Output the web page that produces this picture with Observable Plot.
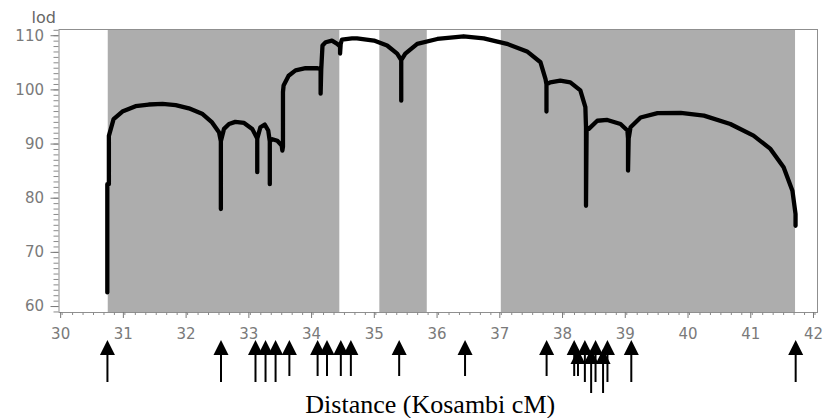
<!DOCTYPE html>
<html><head><meta charset="utf-8">
<script src="https://cdn.jsdelivr.net/npm/d3@7"></script>
<script src="https://cdn.jsdelivr.net/npm/@observablehq/plot@0.6"></script>
<style>body{margin:0;background:#fff}</style>
</head><body><div id="chart"></div>
<script>
// Tick labels
const xTicks = [30, 31, 32, 33, 34, 35, 36, 37, 38, 39, 40, 41, 42];
const yTicks = [60, 70, 80, 90, 100, 110];

// LOD profile (Kosambi cM, lod)
const curveCM = [30.72, 30.72, 30.745, 30.745, 30.82, 30.96, 31.17, 31.38, 31.60, 31.81, 32.02, 32.23, 32.39, 32.50,
  32.53, 32.53, 32.53, 32.58, 32.66, 32.76, 32.90, 33.03,
  33.11, 33.11, 33.11, 33.16, 33.23, 33.285,
  33.31, 33.31, 33.31, 33.35, 33.43, 33.50, 33.51, 33.52, 33.52, 33.53, 33.61, 33.72, 33.88, 34.07,
  34.12, 34.12, 34.13, 34.15, 34.20, 34.30, 34.385,
  34.43, 34.43, 34.44, 34.46, 34.62, 34.70, 34.97, 35.18, 35.34,
  35.405, 35.405, 35.405, 35.47, 35.66, 35.98, 36.40, 36.72, 37.09, 37.41, 37.625, 37.705,
  37.72, 37.72, 37.72, 37.78, 37.94, 38.10, 38.26, 38.34,
  38.35, 38.35, 38.36, 38.395, 38.53, 38.69, 38.90, 39.01,
  39.02, 39.02, 39.03, 39.06, 39.22, 39.49, 39.86, 40.23, 40.65, 41.02, 41.29, 41.50, 41.64, 41.69, 41.69];
const curveLod = [62.6, 82.6, 82.6, 91.5, 94.6, 96.0, 97.0, 97.3, 97.4, 97.2, 96.6, 95.6, 94.0, 92.2,
  90.5, 78.0, 90.5, 92.8, 93.7, 94.1, 93.9, 92.8,
  91.0, 84.8, 91.0, 93.1, 93.6, 92.5,
  90.5, 82.6, 90.5, 90.9, 90.6, 89.7, 88.8, 89.5, 99.6, 100.8, 102.6, 103.6, 104.0, 104.0,
  103.8, 99.3, 103.8, 108.2, 108.8, 109.1, 108.5,
  108.0, 106.7, 108.5, 109.3, 109.5, 109.5, 109.1, 108.2, 106.7,
  105.5, 98.0, 105.5, 106.7, 108.5, 109.4, 109.9, 109.5, 108.5, 107.1, 105.1, 102.0,
  101.0, 96.0, 101.0, 101.4, 101.7, 101.4, 99.9, 96.8,
  93.1, 78.6, 93.1, 92.8, 94.3, 94.45, 93.7, 92.5,
  91.0, 85.1, 91.0, 93.1, 94.9, 95.7, 95.75, 95.25, 93.7, 91.55, 89.1, 85.7, 81.4, 77.1, 74.9];

// Shaded (grey) intervals, cM
const bandStart = [30.735, 35.064, 37.0];
const bandEnd = [34.426, 35.82, 41.69];

// Marker positions under the axis, cM
const markers = [30.73, 32.54, 33.09, 33.25, 33.41, 33.63, 34.08, 34.23, 34.45, 34.61, 35.38, 36.43, 37.73,
  38.17, 38.23, 38.34, 38.44, 38.51, 38.63, 38.70, 39.08, 41.70];
const markerRow = [0, 0, 0, 0, 0, 0, 0, 0, 0, 0, 0, 0, 0, 0, 1, 0, 1, 0, 1, 0, 0, 0];
const markerLen = ["mid", "mid", "mid", "mid", "mid", "short", "short", "short", "short", "short", "short", "short", "short",
  "short", "short", "mid", "long", "mid", "long", "mid", "mid", "mid"];

const curve = curveCM.map((x, i) => ({x, lod: curveLod[i]}));
const bands = bandStart.map((s, i) => ({s, e: bandEnd[i]}));
const yMinor = d3.range(59, 112);
const xMinor = d3.range(0, 73).map(i => 30 + i / 6);

function arrows(index, scales, values, dims) {
  const g = d3.create("svg:g");
  const y0 = dims.height - dims.marginBottom;
  const tip = [28, 37];
  const bottom = {short: 64, mid: 70, long: 81};
  markers.forEach((m, i) => {
    const x = scales.x(m);
    const t = y0 + tip[markerRow[i]];
    const b = y0 + bottom[markerLen[i]];
    g.append("line").attr("x1", x).attr("x2", x).attr("y1", t + 12).attr("y2", b)
      .attr("stroke", "black").attr("stroke-width", 2);
    g.append("path").attr("d", `M${x},${t}L${x + 7.5},${t + 15}L${x - 7.5},${t + 15}Z`).attr("fill", "black");
  });
  return g.node();
}

const chart = Plot.plot({
  width: 823,
  height: 418,
  marginLeft: 58.5,
  marginRight: 6,
  marginTop: 29,
  marginBottom: 106,
  style: {fontFamily: "DejaVu Sans", background: "white"},
  x: {domain: [29.95, 42.04]},
  y: {domain: [58.9, 111.15]},
  marks: [
    Plot.rect(bands, {x1: "s", x2: "e", fill: "#adadad"}),
    Plot.frame({stroke: "#8f8f8f"}),
    Plot.axisY({ticks: yMinor, tickSize: 5, text: null, label: null, color: "#8a8a8a"}),
    Plot.axisY({ticks: yTicks, tickSize: 8, tickPadding: 7, fontSize: 15, label: null, color: "#7a7a7a"}),
    Plot.axisX({ticks: xMinor, tickSize: 3, text: null, label: null, color: "#8a8a8a"}),
    Plot.axisX({ticks: xTicks, tickSize: 6, tickPadding: 10, fontSize: 15, label: null, color: "#7a7a7a", dx: -1.5}),
    Plot.line(curve, {x: "x", y: "lod", stroke: "black", strokeWidth: 4.3}),
    arrows,
    Plot.text(["lod"], {frameAnchor: "top-left", dx: -27.5, dy: -6.3, lineAnchor: "bottom", fontSize: 16, fill: "#666"}),
    Plot.text(["Distance (Kosambi cM)"], {frameAnchor: "bottom", dx: -8, dy: 100, lineAnchor: "bottom",
      fontSize: 26, fontFamily: "Liberation Serif", fill: "black"})
  ]
});
document.getElementById("chart").append(chart);
</script>
</body></html>
